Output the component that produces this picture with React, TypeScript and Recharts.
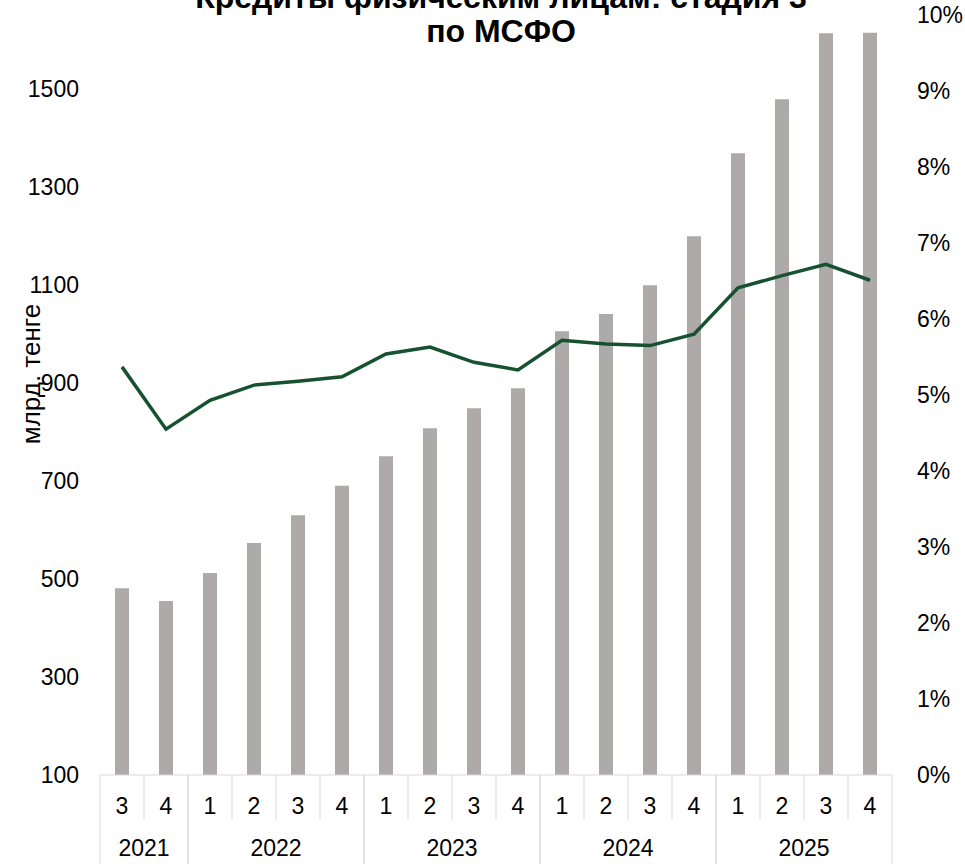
import { ComposedChart, Bar, Line, XAxis, YAxis } from 'recharts';

const quarters = ['3', '4', '1', '2', '3', '4', '1', '2', '3', '4', '1', '2', '3', '4', '1', '2', '3', '4'];
const years = ['2021', '2021', '2022', '2022', '2022', '2022', '2023', '2023', '2023', '2023', '2024', '2024', '2024', '2024', '2025', '2025', '2025', '2025'];
const loans = [481, 455, 512, 573, 630, 690, 750, 807, 848, 889, 1005, 1040, 1099, 1199, 1368, 1478, 1613, 1614];
const share = [5.37, 4.55, 4.93, 5.13, 5.18, 5.24, 5.54, 5.63, 5.43, 5.33, 5.72, 5.67, 5.65, 5.8, 6.41, 6.57, 6.72, 6.51];
const leftTicks = [100, 300, 500, 700, 900, 1100, 1300, 1500];
const rightTicks = [0, 1, 2, 3, 4, 5, 6, 7, 8, 9, 10];

const data = quarters.map((q, i) => ({
  key: `${years[i]}-${q}`,
  q,
  year: years[i],
  loans: loans[i],
  share: share[i],
}));

const W = 965;
const H = 904;
const SHIFT = 40;
const LEFT_W = 100;
const RIGHT_W = 73;
const X_H = 89;
const STEP = (W - LEFT_W - RIGHT_W) / data.length;
const FONT = '"Liberation Sans", Arial, sans-serif';
const SEP = '#d9d9d9';
const FS = 23;

const QuarterTick = (props: any) => {
  const { x, y, payload } = props;
  const i = payload.index ?? props.index;
  const yr = years[i];
  const first = years.indexOf(yr);
  const last = years.lastIndexOf(yr);
  const isFirst = i === first;
  const isLast = i === last;
  return (
    <g>
      <text x={x} y={y + 31} dy="0.35em" textAnchor="middle" fontSize={FS} fontFamily={FONT} fill="#000">
        {quarters[i]}
      </text>
      <line x1={x - STEP / 2} x2={x - STEP / 2} y1={y} y2={y + (isFirst ? X_H : 45)} stroke={SEP} />
      {isLast && <line x1={x + STEP / 2} x2={x + STEP / 2} y1={y} y2={y + X_H} stroke={SEP} />}
      {isFirst && (
        <text
          x={x + ((last - first) / 2) * STEP}
          y={y + 73}
          dy="0.35em"
          textAnchor="middle"
          fontSize={FS}
          fontFamily={FONT}
          fill="#000"
        >
          {yr}
        </text>
      )}
    </g>
  );
};

export default function App() {
  return (
    <div style={{ position: 'absolute', left: 0, top: 0, width: W, height: 864, overflow: 'hidden', background: '#fff' }}>
      <div style={{ position: 'absolute', left: 0, top: -SHIFT }}>
        <ComposedChart width={W} height={H} data={data} margin={{ top: 55, right: 0, bottom: 0, left: 0 }}>
          <XAxis
            dataKey="key"
            interval={0}
            height={X_H}
            tickSize={0}
            tickMargin={0}
            axisLine={{ stroke: SEP }}
            tickLine={false}
            tick={<QuarterTick />}
          />
          <YAxis
            yAxisId="left"
            width={LEFT_W}
            domain={[100, 1650]}
            ticks={leftTicks}
            allowDataOverflow
            axisLine={false}
            tickLine={false}
            tickSize={0}
            tickMargin={21}
            tick={{ fontSize: FS, fontFamily: FONT, fill: '#000' }}
          />
          <YAxis
            yAxisId="right"
            orientation="right"
            width={RIGHT_W}
            domain={[0, 10]}
            ticks={rightTicks}
            allowDataOverflow
            axisLine={false}
            tickLine={false}
            tickSize={0}
            tickMargin={25}
            tickFormatter={(v: number) => `${v}%`}
            tick={{ fontSize: FS, fontFamily: FONT, fill: '#000', textAnchor: 'start' }}
          />
          <Bar yAxisId="left" dataKey="loans" fill="#aeaaaa" barSize={14} isAnimationActive={false} />
          <Line
            yAxisId="right"
            dataKey="share"
            type="linear"
            stroke="#165130"
            strokeWidth={3.5}
            dot={false}
            isAnimationActive={false}
          />
        </ComposedChart>
      </div>
      <svg width={W} height={864} style={{ position: 'absolute', left: 0, top: 0, pointerEvents: 'none', overflow: 'visible' }}>
        <text x={501} y={8} textAnchor="middle" fontSize={32} fontWeight="bold" fontFamily={FONT} fill="#000">
          Кредиты физическим лицам: стадия 3
        </text>
        <text x={501} y={42} textAnchor="middle" fontSize={32} fontWeight="bold" fontFamily={FONT} fill="#000">
          по МСФО
        </text>
        <text
          x={0}
          y={0}
          transform="translate(40 374) rotate(-90)"
          textAnchor="middle"
          fontSize={26}
          fontFamily={FONT}
          fill="#000"
        >
          млрд. тенге
        </text>
      </svg>
    </div>
  );
}
